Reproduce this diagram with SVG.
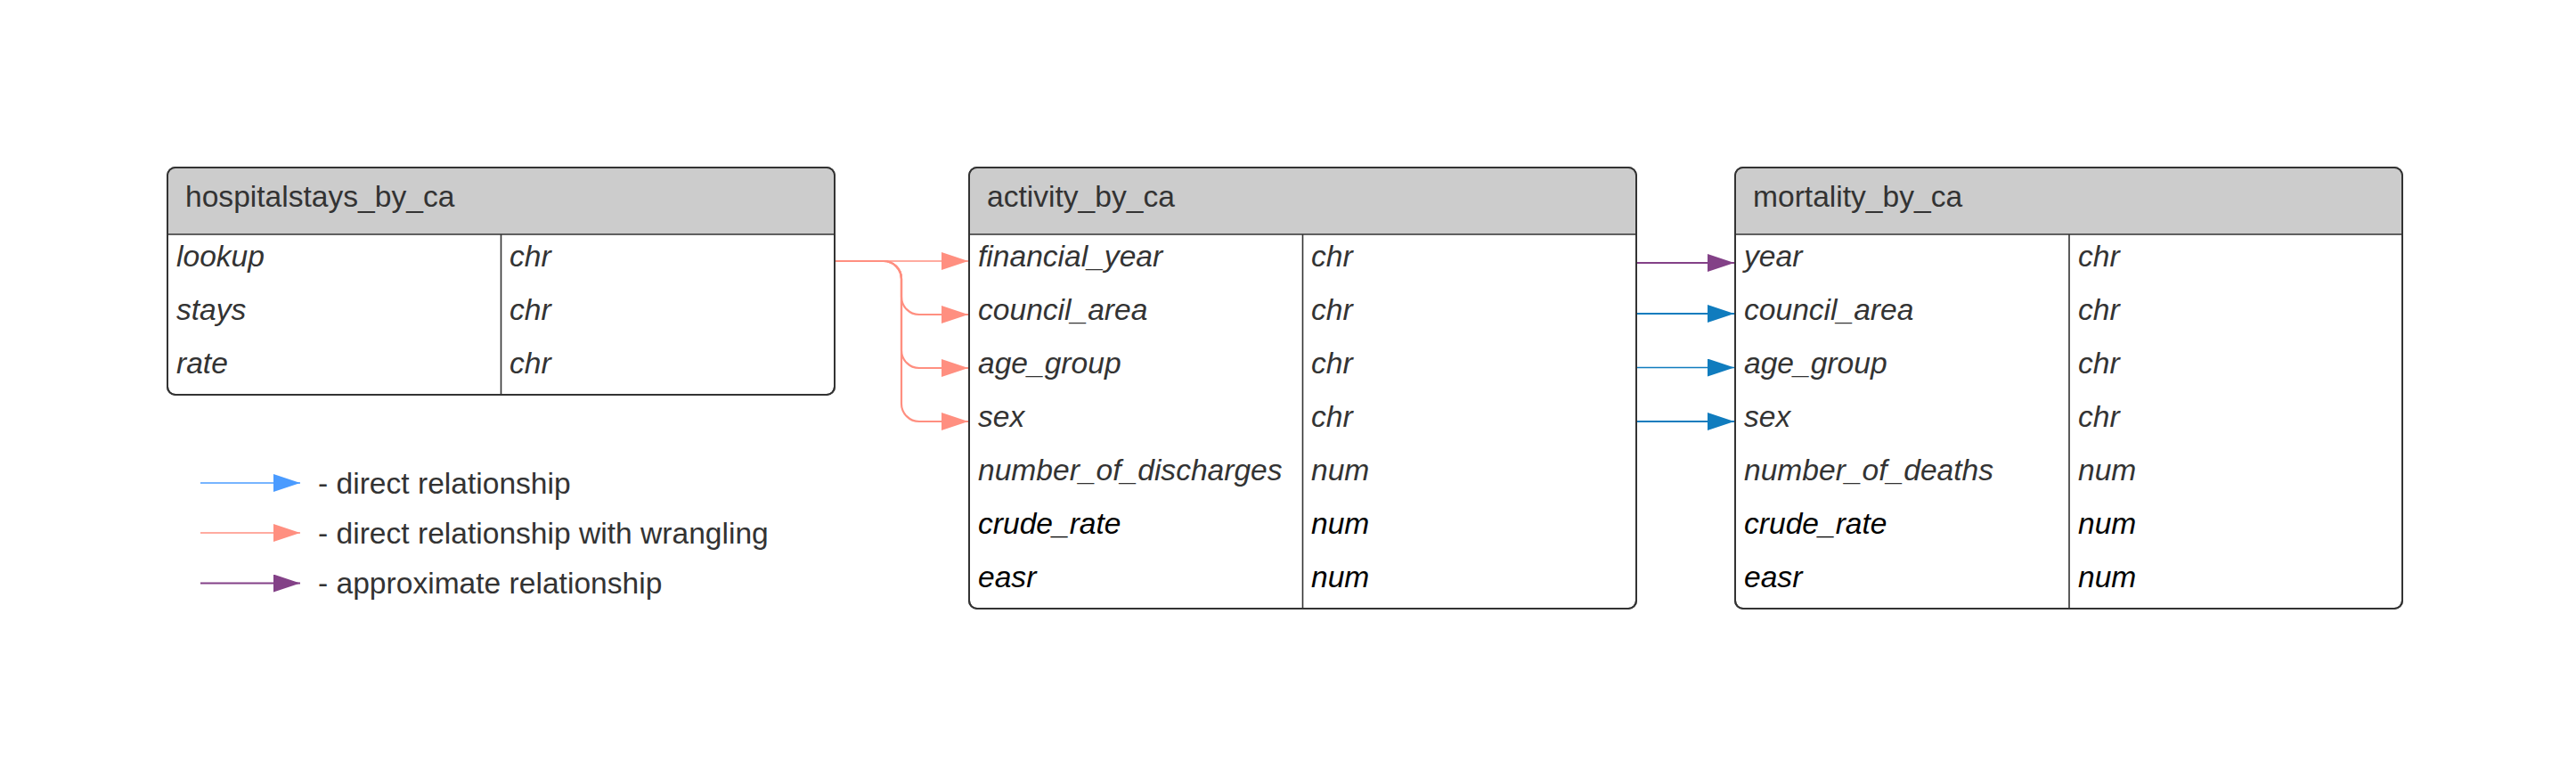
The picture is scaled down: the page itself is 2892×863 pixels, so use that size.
<svg xmlns="http://www.w3.org/2000/svg" width="2892" height="863" viewBox="0 0 2892 863">
<defs>
<style>
.box{fill:#ffffff;stroke:#333333;stroke-width:2}
.hdr{fill:#cccccc}
.ln{stroke:#333333;stroke-width:1.6;fill:none}
.t{font-family:"Liberation Sans",Arial,sans-serif;font-size:33.6px;fill:#333333}
.it{font-style:italic}
.blk{fill:#000000}
.c{fill:none}
.red{stroke:#FF8F80}
.pur{stroke:#834187}
.blu{stroke:#107CBE}
.lblu{stroke:#4A9BFF}
</style>
<marker id="aRed" viewBox="0 0 30 20" refX="30" refY="10" markerWidth="30" markerHeight="20" markerUnits="userSpaceOnUse" orient="auto"><path d="M0 0 L30 10 L0 20 Z" fill="#FF8F80"/></marker>
<marker id="aPur" viewBox="0 0 30 20" refX="30" refY="10" markerWidth="30" markerHeight="20" markerUnits="userSpaceOnUse" orient="auto"><path d="M0 0 L30 10 L0 20 Z" fill="#834187"/></marker>
<marker id="aBlu" viewBox="0 0 30 20" refX="30" refY="10" markerWidth="30" markerHeight="20" markerUnits="userSpaceOnUse" orient="auto"><path d="M0 0 L30 10 L0 20 Z" fill="#107CBE"/></marker>
<marker id="aLBlu" viewBox="0 0 30 20" refX="30" refY="10" markerWidth="30" markerHeight="20" markerUnits="userSpaceOnUse" orient="auto"><path d="M0 0 L30 10 L0 20 Z" fill="#4A9BFF"/></marker>
</defs>
<rect width="2892" height="863" fill="#ffffff"/>

<g id="hospitalstays_by_ca">
<rect class="box" x="188" y="188" width="749" height="255" rx="9"/>
<path class="hdr" d="M197 189 H928 A8 8 0 0 1 936 197 V263 H189 V197 A8 8 0 0 1 197 189 Z"/>
<rect x="188" y="188" width="749" height="255" rx="9" fill="none" stroke="#333333" stroke-width="2"/>
<path class="ln" d="M188 263 H937 M562.5 263 V443"/>
<text class="t" x="208" y="232">hospitalstays_by_ca</text>
<text class="t it" x="198" y="299">lookup</text><text class="t it" x="572" y="299">chr</text>
<text class="t it" x="198" y="359">stays</text><text class="t it" x="572" y="359">chr</text>
<text class="t it" x="198" y="419">rate</text><text class="t it" x="572" y="419">chr</text>
</g>

<g id="activity_by_ca">
<rect class="box" x="1088" y="188" width="749" height="495" rx="9"/>
<path class="hdr" d="M1097 189 H1828 A8 8 0 0 1 1836 197 V263 H1089 V197 A8 8 0 0 1 1097 189 Z"/>
<rect x="1088" y="188" width="749" height="495" rx="9" fill="none" stroke="#333333" stroke-width="2"/>
<path class="ln" d="M1088 263 H1837 M1462.5 263 V683"/>
<text class="t" x="1108" y="232">activity_by_ca</text>
<text class="t it" x="1098" y="299">financial_year</text><text class="t it" x="1472" y="299">chr</text>
<text class="t it" x="1098" y="359">council_area</text><text class="t it" x="1472" y="359">chr</text>
<text class="t it" x="1098" y="419">age_group</text><text class="t it" x="1472" y="419">chr</text>
<text class="t it" x="1098" y="479">sex</text><text class="t it" x="1472" y="479">chr</text>
<text class="t it" x="1098" y="539">number_of_discharges</text><text class="t it" x="1472" y="539">num</text>
<text class="t it blk" x="1098" y="599">crude_rate</text><text class="t it blk" x="1472" y="599">num</text>
<text class="t it blk" x="1098" y="659">easr</text><text class="t it blk" x="1472" y="659">num</text>
</g>

<g id="mortality_by_ca">
<rect class="box" x="1948" y="188" width="749" height="495" rx="9"/>
<path class="hdr" d="M1957 189 H2688 A8 8 0 0 1 2696 197 V263 H1949 V197 A8 8 0 0 1 1957 189 Z"/>
<rect x="1948" y="188" width="749" height="495" rx="9" fill="none" stroke="#333333" stroke-width="2"/>
<path class="ln" d="M1948 263 H2697 M2323 263 V683"/>
<text class="t" x="1968" y="232">mortality_by_ca</text>
<text class="t it" x="1958" y="299">year</text><text class="t it" x="2333" y="299">chr</text>
<text class="t it" x="1958" y="359">council_area</text><text class="t it" x="2333" y="359">chr</text>
<text class="t it" x="1958" y="419">age_group</text><text class="t it" x="2333" y="419">chr</text>
<text class="t it" x="1958" y="479">sex</text><text class="t it" x="2333" y="479">chr</text>
<text class="t it" x="1958" y="539">number_of_deaths</text><text class="t it" x="2333" y="539">num</text>
<text class="t it blk" x="1958" y="599">crude_rate</text><text class="t it blk" x="2333" y="599">num</text>
<text class="t it blk" x="1958" y="659">easr</text><text class="t it blk" x="2333" y="659">num</text>
</g>

<g id="connectors">
<path class="c red" stroke-width="1.5" d="M938 293 H1087" marker-end="url(#aRed)"/>
<path class="c red" stroke-width="2.2" d="M938 293 H992 A20 20 0 0 1 1012 313 V333 A20 20 0 0 0 1032 353 H1087" marker-end="url(#aRed)"/>
<path class="c red" stroke-width="2.2" d="M938 293 H992 A20 20 0 0 1 1012 313 V393 A20 20 0 0 0 1032 413 H1087" marker-end="url(#aRed)"/>
<path class="c red" stroke-width="2.2" d="M938 293 H992 A20 20 0 0 1 1012 313 V453 A20 20 0 0 0 1032 473 H1087" marker-end="url(#aRed)"/>
<path class="c pur" stroke-width="2.2" d="M1838 295 H1947" marker-end="url(#aPur)"/>
<path class="c blu" stroke-width="2.2" d="M1838 352 H1947" marker-end="url(#aBlu)"/>
<path class="c blu" stroke-width="1.4" d="M1838 412.5 H1947" marker-end="url(#aBlu)"/>
<path class="c blu" stroke-width="2.2" d="M1838 473 H1947" marker-end="url(#aBlu)"/>
</g>

<g id="legend">
<path class="c lblu" stroke-width="1.5" d="M225 542 H337" marker-end="url(#aLBlu)"/>
<path class="c red" stroke-width="1.5" d="M225 598 H337" marker-end="url(#aRed)"/>
<path class="c pur" stroke-width="2.2" d="M225 654.5 H337" marker-end="url(#aPur)"/>
<text class="t" x="357" y="554">- direct relationship</text>
<text class="t" x="357" y="610">- direct relationship with wrangling</text>
<text class="t" x="357" y="666">- approximate relationship</text>
</g>
</svg>
